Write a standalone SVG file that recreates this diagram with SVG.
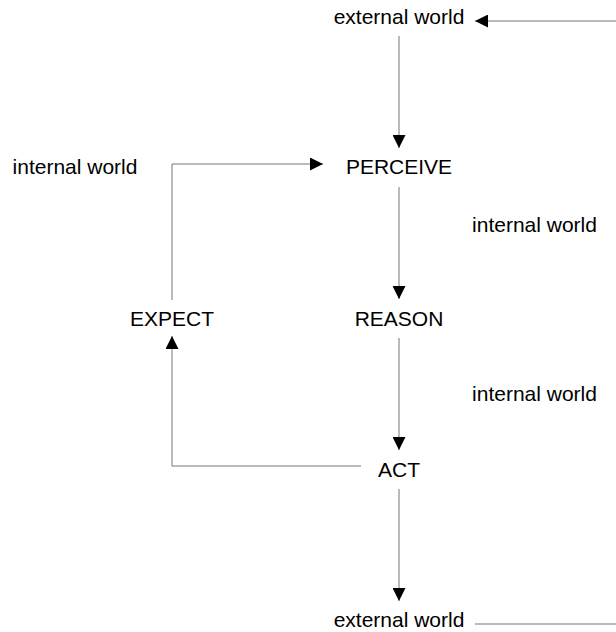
<svg xmlns="http://www.w3.org/2000/svg" width="616" height="632" viewBox="0 0 616 632">
<style>
  .t{font-family:"Liberation Sans",Arial,sans-serif;font-size:21px;fill:#000;text-anchor:middle}
  .c{fill:none;stroke:#777;stroke-width:1}
</style>
<defs>
  <marker id="ah" markerUnits="userSpaceOnUse" markerWidth="13" markerHeight="13" refX="13" refY="6.5" orient="auto">
    <path d="M0,0 L13,6.5 L0,13 Z" fill="#000"/>
  </marker>
</defs>
<rect width="616" height="632" fill="#fff"/>
<g id="connectors">
  <path class="c" d="M399,36 V148" marker-end="url(#ah)"/>
  <path class="c" d="M399,187 V299" marker-end="url(#ah)"/>
  <path class="c" d="M399,338 V450" marker-end="url(#ah)"/>
  <path class="c" d="M399,489 V601" marker-end="url(#ah)"/>
  <path class="c" d="M361,466 H172 V336" marker-end="url(#ah)"/>
  <path class="c" d="M172,300 V164 H323" marker-end="url(#ah)"/>
  <path class="c" d="M475,624 H640 V21 H475" marker-end="url(#ah)"/>
</g>
<g id="external-top"><text class="t" x="399" y="24">external world</text></g>
<g id="perceive"><text class="t" x="399" y="174">PERCEIVE</text></g>
<g id="internal-left"><text class="t" x="75" y="174">internal world</text></g>
<g id="internal-right-1"><text class="t" x="534.5" y="232">internal world</text></g>
<g id="expect"><text class="t" x="172" y="326">EXPECT</text></g>
<g id="reason"><text class="t" x="399" y="326">REASON</text></g>
<g id="internal-right-2"><text class="t" x="534.5" y="401">internal world</text></g>
<g id="act"><text class="t" x="399" y="477">ACT</text></g>
<g id="external-bottom"><text class="t" x="399" y="627">external world</text></g>
</svg>
